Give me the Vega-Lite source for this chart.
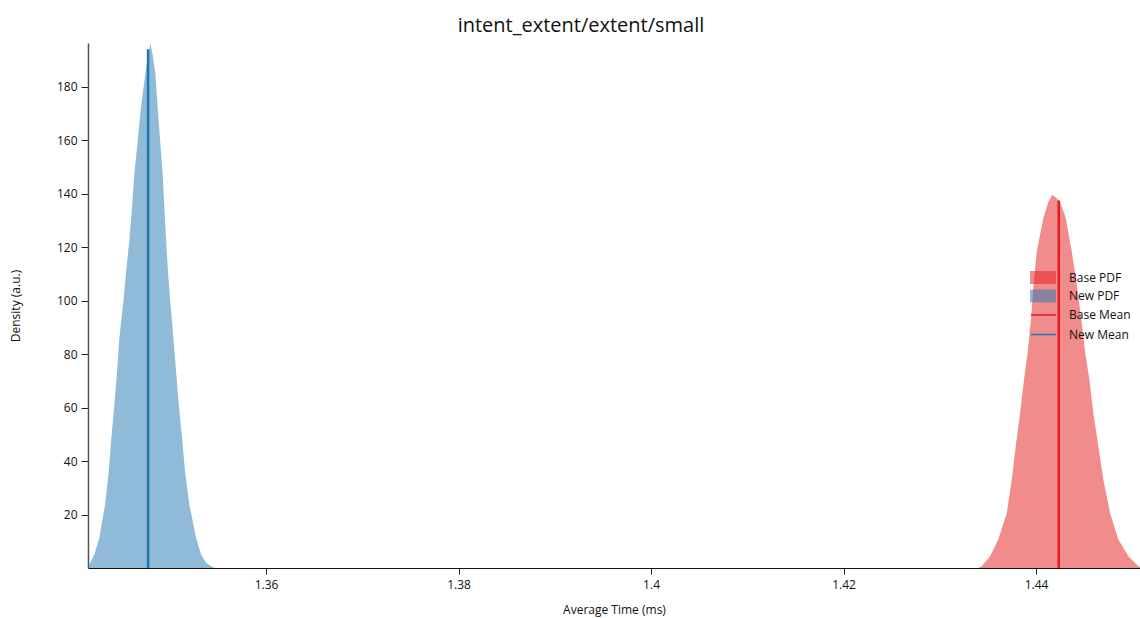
{
  "$schema": "https://vega.github.io/schema/vega-lite/v6.json",
  "width": 1052,
  "height": 525,
  "autosize": {"type": "none"},
  "padding": {"left": 88, "top": 43, "right": 0, "bottom": 50},
  "title": {"text": "intent_extent/extent/small", "fontSize": 20, "font": "Open Sans", "fontWeight": "normal", "color": "#111111", "baseline": "alphabetic", "offset": 11, "dy": 20, "dx": -33},
  "config": {
    "view": {"stroke": null},
    "font": "Open Sans",
    "axis": {"labelFont": "Open Sans", "titleFont": "Open Sans", "labelFontSize": 12, "titleFontSize": 12, "titleFontWeight": "normal", "labelColor": "#111111", "titleColor": "#111111", "grid": false, "tickColor": "#222222", "domainColor": "#222222"},
    "legend": {"labelFont": "Open Sans", "labelFontSize": 12, "labelColor": "#111111"}
  },
  "datasets": {
    "pdf": [
      {"t": 1.3415, "density": 0.4, "series": "New PDF"},
      {"t": 1.34216, "density": 5, "series": "New PDF"},
      {"t": 1.34268, "density": 11.3, "series": "New PDF"},
      {"t": 1.34327, "density": 23.7, "series": "New PDF"},
      {"t": 1.34366, "density": 36.2, "series": "New PDF"},
      {"t": 1.34393, "density": 48.7, "series": "New PDF"},
      {"t": 1.34424, "density": 61.1, "series": "New PDF"},
      {"t": 1.34452, "density": 73.6, "series": "New PDF"},
      {"t": 1.34476, "density": 86, "series": "New PDF"},
      {"t": 1.34517, "density": 99.5, "series": "New PDF"},
      {"t": 1.34545, "density": 110.4, "series": "New PDF"},
      {"t": 1.3458, "density": 122.8, "series": "New PDF"},
      {"t": 1.34608, "density": 135.2, "series": "New PDF"},
      {"t": 1.34632, "density": 147.7, "series": "New PDF"},
      {"t": 1.34667, "density": 160, "series": "New PDF"},
      {"t": 1.34701, "density": 172.6, "series": "New PDF"},
      {"t": 1.34746, "density": 185, "series": "New PDF"},
      {"t": 1.34774, "density": 191.5, "series": "New PDF"},
      {"t": 1.34798, "density": 196.3, "series": "New PDF"},
      {"t": 1.34821, "density": 192, "series": "New PDF"},
      {"t": 1.3485, "density": 185, "series": "New PDF"},
      {"t": 1.34873, "density": 172.6, "series": "New PDF"},
      {"t": 1.34899, "density": 160, "series": "New PDF"},
      {"t": 1.34925, "density": 147.7, "series": "New PDF"},
      {"t": 1.34943, "density": 135.2, "series": "New PDF"},
      {"t": 1.34961, "density": 122.8, "series": "New PDF"},
      {"t": 1.34982, "density": 110.4, "series": "New PDF"},
      {"t": 1.35005, "density": 99.5, "series": "New PDF"},
      {"t": 1.35037, "density": 86, "series": "New PDF"},
      {"t": 1.35065, "density": 73.6, "series": "New PDF"},
      {"t": 1.35093, "density": 61.1, "series": "New PDF"},
      {"t": 1.35127, "density": 48.7, "series": "New PDF"},
      {"t": 1.35158, "density": 36.2, "series": "New PDF"},
      {"t": 1.35203, "density": 23.7, "series": "New PDF"},
      {"t": 1.35273, "density": 11.3, "series": "New PDF"},
      {"t": 1.35325, "density": 5, "series": "New PDF"},
      {"t": 1.35377, "density": 2, "series": "New PDF"},
      {"t": 1.35446, "density": 0.3, "series": "New PDF"},
      {"t": 1.3548, "density": 0, "series": "New PDF"},
      {"t": 1.434, "density": 0, "series": "Base PDF"},
      {"t": 1.43436, "density": 0.7, "series": "Base PDF"},
      {"t": 1.43522, "density": 4.4, "series": "Base PDF"},
      {"t": 1.43608, "density": 10.7, "series": "Base PDF"},
      {"t": 1.43696, "density": 20.6, "series": "Base PDF"},
      {"t": 1.43748, "density": 33.1, "series": "Base PDF"},
      {"t": 1.43789, "density": 45.5, "series": "Base PDF"},
      {"t": 1.43834, "density": 58, "series": "Base PDF"},
      {"t": 1.43875, "density": 70.5, "series": "Base PDF"},
      {"t": 1.43914, "density": 81, "series": "Base PDF"},
      {"t": 1.43948, "density": 93.5, "series": "Base PDF"},
      {"t": 1.43974, "density": 106, "series": "Base PDF"},
      {"t": 1.44007, "density": 118.4, "series": "Base PDF"},
      {"t": 1.44076, "density": 130.9, "series": "Base PDF"},
      {"t": 1.44128, "density": 136.9, "series": "Base PDF"},
      {"t": 1.44169, "density": 139.6, "series": "Base PDF"},
      {"t": 1.44208, "density": 138.5, "series": "Base PDF"},
      {"t": 1.44249, "density": 136.9, "series": "Base PDF"},
      {"t": 1.44309, "density": 130.9, "series": "Base PDF"},
      {"t": 1.44371, "density": 118.4, "series": "Base PDF"},
      {"t": 1.44423, "density": 106, "series": "Base PDF"},
      {"t": 1.44468, "density": 93.5, "series": "Base PDF"},
      {"t": 1.44509, "density": 81, "series": "Base PDF"},
      {"t": 1.44554, "density": 70.5, "series": "Base PDF"},
      {"t": 1.44595, "density": 58, "series": "Base PDF"},
      {"t": 1.44647, "density": 45.5, "series": "Base PDF"},
      {"t": 1.44699, "density": 33.1, "series": "Base PDF"},
      {"t": 1.44769, "density": 20.6, "series": "Base PDF"},
      {"t": 1.44855, "density": 10.7, "series": "Base PDF"},
      {"t": 1.44959, "density": 4.4, "series": "Base PDF"},
      {"t": 1.45063, "density": 0.7, "series": "Base PDF"},
      {"t": 1.4508, "density": 0.5, "series": "Base PDF"}
    ],
    "means": [
      {"t": 1.44236, "top": 137.5, "series": "Base Mean"},
      {"t": 1.34774, "top": 194.1, "series": "New Mean"}
    ]
  },
  "layer": [
    {
      "data": {"name": "pdf"},
      "mark": {"type": "area", "fillOpacity": 0.5, "interpolate": "linear", "clip": true},
      "encoding": {
        "x": {"field": "t", "type": "quantitative", "scale": {"domain": [1.3415, 1.4508], "nice": false, "zero": false},
              "axis": {"title": "Average Time (ms)", "values": [1.36, 1.38, 1.4, 1.42, 1.44], "format": "~g", "tickSize": 6, "labelPadding": 5, "titlePadding": 14, "domainColor": "#111111", "domainWidth": 1.2}},
        "y": {"field": "density", "type": "quantitative", "scale": {"domain": [0, 196.4], "nice": false},
              "axis": {"title": "Density (a.u.)", "values": [20, 40, 60, 80, 100, 120, 140, 160, 180], "tickSize": 7, "labelPadding": 4, "titlePadding": 34, "domainColor": "#555555", "domainWidth": 1.5}},
        "fill": {"field": "series", "type": "nominal",
                 "scale": {"domain": ["Base PDF", "New PDF"], "range": ["#e41a1c", "#1f77b4"]},
                 "legend": {"title": null, "orient": "none", "legendX": 948.5, "legendY": 228, "symbolType": "M-2,-1H2V1H-2Z", "symbolSize": 169, "symbolOpacity": 0.5, "symbolStrokeWidth": 0, "rowPadding": 5.5, "labelOffset": 19.5}}
      }
    },
    {
      "data": {"name": "means"},
      "mark": {"type": "rule", "strokeWidth": 2.5},
      "encoding": {
        "x": {"field": "t", "type": "quantitative"},
        "y": {"field": "top", "type": "quantitative"},
        "y2": {"datum": 0},
        "stroke": {"field": "series", "type": "nominal",
                   "scale": {"domain": ["Base Mean", "New Mean"], "range": ["#e41a1c", "#1f77b4"]},
                   "legend": {"title": null, "orient": "none", "legendX": 948.5, "legendY": 265, "symbolType": "M-2,0H2", "symbolSize": 156, "symbolStrokeWidth": 1.5, "rowPadding": 6.5, "labelOffset": 18.5}}
      }
    }
  ]
}
